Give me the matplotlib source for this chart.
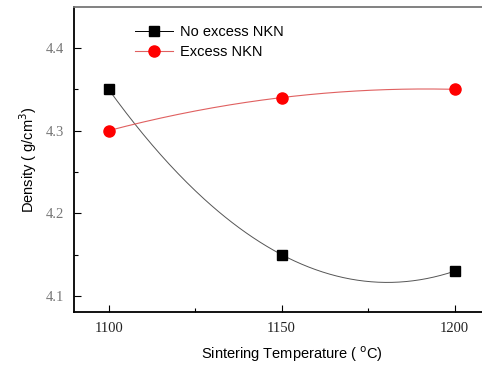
import numpy as np
import matplotlib
matplotlib.use('Agg')
import matplotlib.pyplot as plt
from matplotlib.lines import Line2D

# data
temps = [1100, 1150, 1200]
no_excess = [4.35, 4.15, 4.13]
excess = [4.30, 4.34, 4.35]

fig = plt.figure(figsize=(4.82, 3.65), dpi=100)
# right edge of the axes lies just outside the image, as in the reference
ax = fig.add_axes([74 / 482, 1 - 312 / 365, 436 / 482, 305 / 365])

# smooth connecting curves through the points
xs = np.linspace(1100, 1200, 200)
p1 = np.polyfit(temps, no_excess, 2)
p2 = np.polyfit(temps, excess, 2)
ax.plot(xs, np.polyval(p1, xs), color='#555555', lw=0.7)
ax.plot(xs, np.polyval(p2, xs), color='#e06060', lw=0.8)

ax.plot(temps, no_excess, 's', color='black', ms=7, label='No excess NKN')
ax.plot(temps, excess, 'o', color='red', ms=8, label='Excess NKN')

# legend handles with a line through the marker
h1 = Line2D([], [], color='black', lw=0.7, marker='s', ms=7)
h2 = Line2D([], [], color='#e06060', lw=0.8, marker='o', ms=8, mfc='red', mec='red')
ax.legend([h1, h2], ['No excess NKN', 'Excess NKN'], loc='upper left',
          bbox_to_anchor=(0.11, 0.985), frameon=False, handlelength=2.6,
          handletextpad=0.5, labelspacing=0.45,
          prop={'family': 'Liberation Sans', 'size': 10.5})

ax.set_xlim(1090, 1216)
ax.set_ylim(4.0806, 4.4496)
ax.set_xticks([1100, 1150, 1200])
ax.set_xticks([1125, 1175], minor=True)
ax.set_yticks([4.1, 4.2, 4.3, 4.4])
ax.set_yticks([4.15, 4.25, 4.35], minor=True)
ax.tick_params(which='both', direction='in', width=0.8)
ax.tick_params(which='major', length=5, pad=7)
ax.tick_params(which='minor', length=3)
for lab in ax.get_xticklabels():
    lab.set_fontfamily('Liberation Serif')
    lab.set_fontsize(10.5)
    lab.set_color('#222222')
for lab in ax.get_yticklabels():
    lab.set_fontfamily('Liberation Serif')
    lab.set_fontsize(10.5)
    lab.set_color('#777777')

ax.spines['left'].set_linewidth(1.3)
ax.spines['bottom'].set_linewidth(1.3)
ax.spines['top'].set_color('#777777')
ax.spines['top'].set_linewidth(1.3)

ax.set_xlabel('Sintering Temperature ( $^{\\mathrm{o}}$C)', fontfamily='Liberation Sans',
              fontsize=10.5, labelpad=7)
ax.set_ylabel('Density ( g/cm$^{\\mathrm{3}}$)', fontfamily='Liberation Sans',
              fontsize=10.5, labelpad=5)

fig.savefig('out.png', dpi=100)
